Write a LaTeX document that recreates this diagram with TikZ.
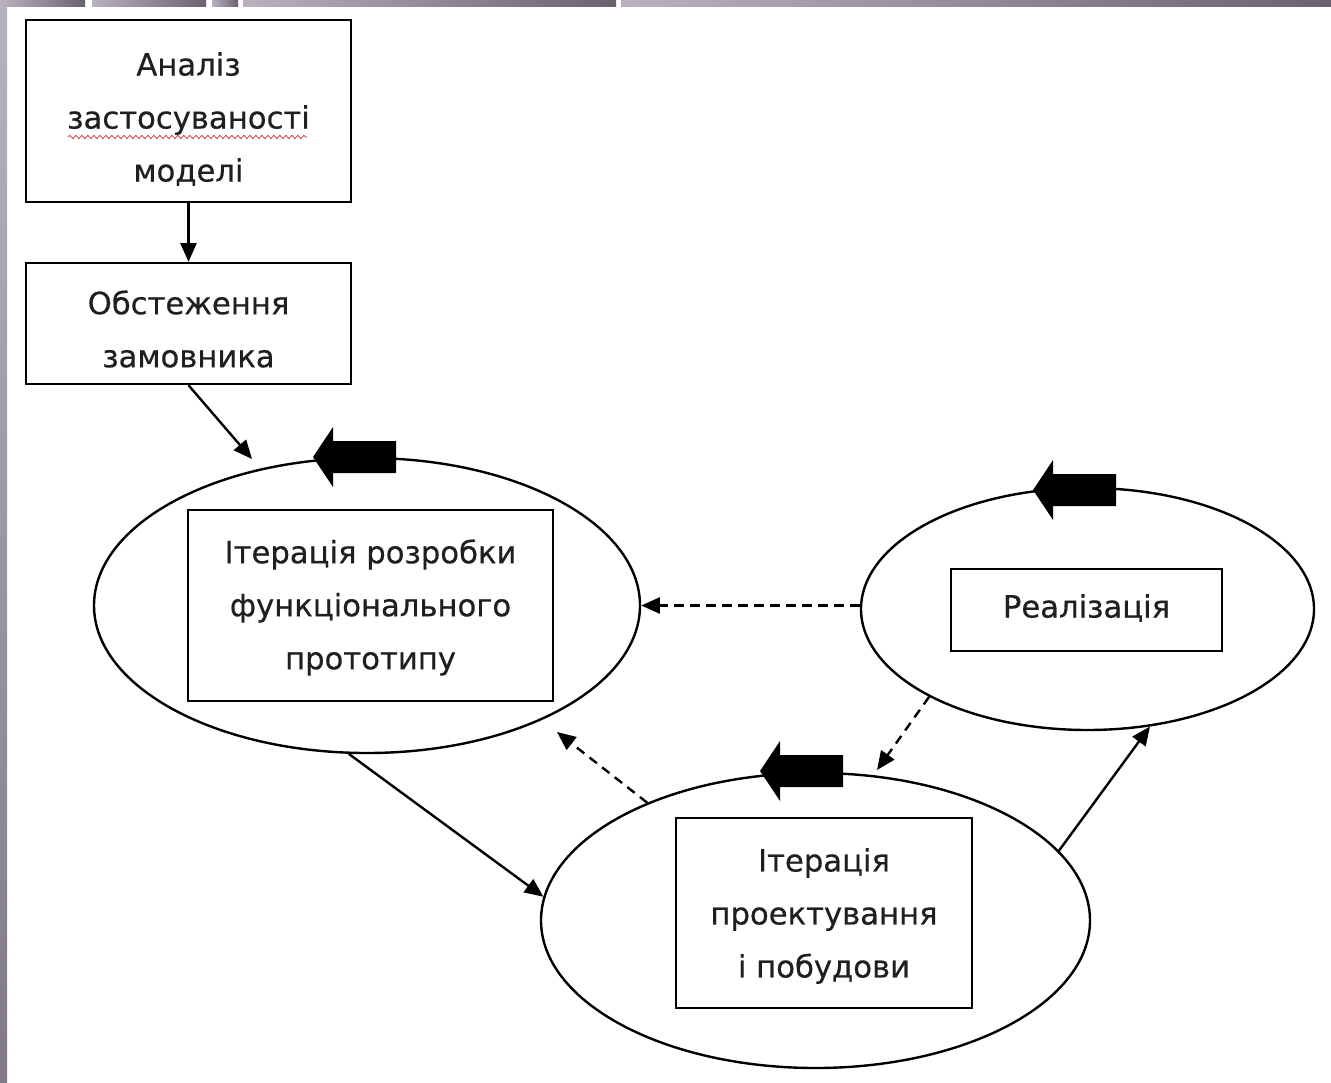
\documentclass[tikz,border=0pt]{standalone}
\usepackage{fontspec}
\setmainfont{DejaVu Sans}
\newfontfamily\lblfont{DejaVu Sans}[FakeBold=0.5]
\usetikzlibrary{shapes.geometric,arrows.meta,decorations.pathmorphing}
\definecolor{barlight}{HTML}{B8B2C0}
\definecolor{bardark}{HTML}{6A6270}
\definecolor{spellred}{HTML}{D03A3A}
\begin{document}
\begin{tikzpicture}[x=0.75pt,y=-0.75pt,
  txt/.style={font=\lblfont\fontsize{23}{39.75}\selectfont, align=center, text=black!88, inner sep=0pt},
  boxnode/.style={draw, line width=1.8pt, rectangle, inner sep=0pt},
  ellnode/.style={draw, line width=1.8pt, ellipse, inner sep=0pt},
  conn/.style={line width=1.8pt, -{Triangle[length=14pt,width=12pt]}},
  dconn/.style={conn, dash pattern=on 7pt off 5pt},
  blockarrow/.pic={\fill[black] (0,0) -- (20,-30) -- (20,-16) -- (83,-16) -- (83,16) -- (20,16) -- (20,30) -- cycle;}
]
% canvas and frame
\fill[white] (0,0) rectangle (1331,1082);
\useasboundingbox (0,0) rectangle (1331,1082);
\shade[top color=barlight, bottom color=bardark!85] (0,0) rectangle (7,1082);
\foreach \a/\b in {0/85, 92/206, 212/238, 243/616, 621/1331}{
  \shade[left color=barlight, right color=bardark] (\a,0) rectangle (\b,6);
}

% top boxes
\node[boxnode, minimum width=243.75pt, minimum height=136.5pt] (analiz) at (188.5,111) {};
\node[txt] (analizT) at (188.5,119) {Аналіз\\застосуваності\\моделі};
\draw[spellred, line width=0.6pt, decorate, decoration={snake, amplitude=1.2pt, segment length=4.5pt}] (68,137) -- (307,137);
\node[boxnode, minimum width=243.75pt, minimum height=90.75pt] (obst) at (188.5,323.5) {};
\node[txt] (obstT) at (188.5,329) {Обстеження\\замовника};

% ellipses
\node[ellnode, minimum width=409.5pt, minimum height=221.25pt] (e1) at (367,605.5) {};
\node[ellnode, minimum width=339.75pt, minimum height=181.5pt] (e2) at (1087.5,609) {};
\node[ellnode, minimum width=411.75pt, minimum height=221.25pt] (e3) at (815.5,920.5) {};

% inner boxes
\node[boxnode, minimum width=273.75pt, minimum height=143.25pt] (ib1) at (370.5,605.5) {};
\node[txt] (ib1T) at (370.5,607.5) {Ітерація розробки\\функціонального\\прототипу};
\node[boxnode, minimum width=203.25pt, minimum height=61.5pt] (ib2) at (1086.5,610) {};
\node[txt] (ib2T) at (1086.5,608) {Реалізація};
\node[boxnode, minimum width=222pt, minimum height=142.5pt] (ib3) at (824,913) {};
\node[txt] (ib3T) at (824,916) {Ітерація\\проектування\\і побудови};

% block arrows
\pic at (313,457) {blockarrow};
\pic at (1033,490) {blockarrow};
\pic at (760,771) {blockarrow};

% free ends
\coordinate (t1) at (252,459);
\coordinate (t2) at (877,770);
\coordinate (t3) at (557,732);

% connectors
\draw[conn] (analiz.south) -- (obst.north);
\draw[conn] (obst.south) -- (t1);
\draw[dconn] (e2.west |- e1.east) -- (e1.east);
\draw[dconn] (e2.209) -- (t2);
\draw[dconn] (e3.145) -- (t3);
\draw[conn] (e1.263) -- (e3.175);
\draw[conn] (e3.16.5) -- (e2.298);
\end{tikzpicture}
\end{document}
